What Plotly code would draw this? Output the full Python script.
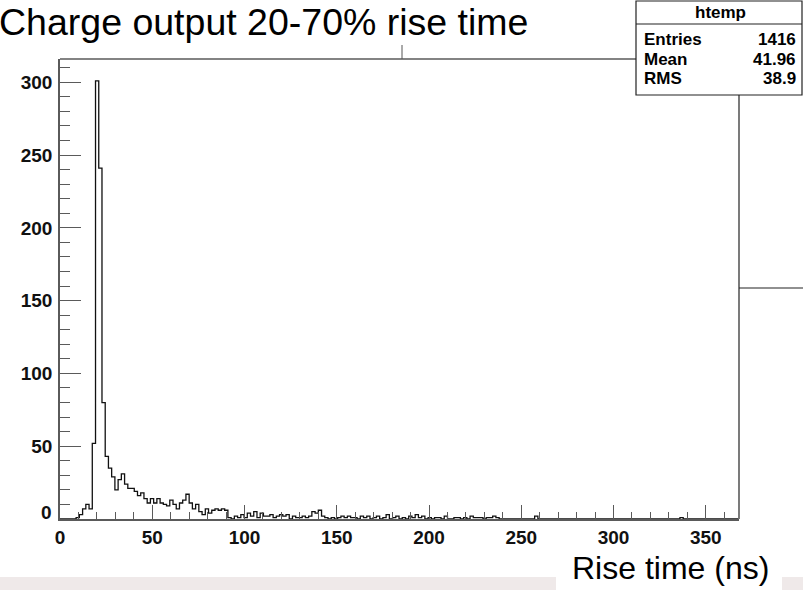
import plotly.graph_objects as go

# ---- data ----
bin_width = 1.75
counts = [
    0, 0, 0, 0, 0,
    1, 3, 7, 10, 7,
    52, 301, 241, 80, 43,
    35, 29, 20, 27, 31,
    24, 21, 21, 19, 16,
    18, 14, 11, 14, 11,
    14, 11, 10, 9, 13,
    10, 7, 11, 13, 17,
    11, 7, 10, 5, 3,
    7, 4, 6, 7, 6,
    7, 6, 1, 0, 2,
    1, 3, 1, 4, 2,
    5, 1, 4, 2, 2,
    3, 1, 2, 3, 2,
    3, 0, 2, 1, 1,
    2, 1, 2, 5, 4,
    6, 2, 1, 0, 1,
    0, 1, 2, 1, 2,
    1, 1, 0, 2, 1,
    2, 0, 1, 2, 0,
    1, 3, 0, 1, 2,
    0, 1, 0, 2, 1,
    3, 1, 2, 0, 1,
    0, 1, 1, 0, 2,
    0, 0, 1, 1, 0,
    1, 0, 2, 1, 1,
    1, 0, 1, 1, 2,
    1, 0, 0, 0, 0,
    0, 0, 0, 0, 0,
    0, 0, 2, 0, 0,
    0, 0, 0, 0, 0,
    0, 0, 0, 0, 0,
    0, 0, 0, 0, 0,
    0, 0, 0, 0, 0,
    0, 0, 0, 0, 0,
    0, 0, 0, 0, 0,
    0, 0, 0, 0, 0,
    0, 0, 0, 0, 0,
    0, 0, 1, 0, 0,
    0, 0, 0, 0, 0,
    0, 0, 0, 0, 0,
    0, 0, 0, 0, 0,
]
x_ticks = [0, 50, 100, 150, 200, 250, 300, 350]
y_ticks = [0, 50, 100, 150, 200, 250, 300]
x_range = [0, 368]
y_range = [0, 316]
title_text = "Charge output 20-70% rise time"
x_title = "Rise time (ns)"
stats_name = "htemp"
stats_rows = [("Entries", "1416"), ("Mean", "41.96"), ("RMS", "38.9")]

# step outline built from bin edges
edges = [i * bin_width for i in range(len(counts) + 1)]
xs = [edges[0]] + edges
ys = [0] + counts + [0]

W, H = 803, 590
L, R, T, B = 60, 64, 59, 71
pw, ph = W - L - R, H - T - B

def px(xp):
    return (xp - L) / pw

def py(yp):
    return (H - B - yp) / ph

fig = go.Figure()
fig.add_trace(go.Scatter(
    x=xs, y=ys, mode="lines", line=dict(shape="hv", color="#111111", width=1.3),
    hoverinfo="skip", showlegend=False))

frame = "#5a5a5a"
FAM = "Liberation Sans, Arial, sans-serif"
tickfont = dict(family=FAM, size=19, color="#111111", weight="bold")
fig.update_layout(
    width=W, height=H,
    margin=dict(l=L, r=R, t=T, b=B),
    paper_bgcolor="white", plot_bgcolor="white",
    showlegend=False,
    xaxis=dict(range=x_range, tickvals=x_ticks, ticktext=[str(v) for v in x_ticks],
               ticks="inside", ticklen=14, tickwidth=1.2, tickcolor=frame,
               minor=dict(dtick=10, tick0=0, ticks="inside", ticklen=7, tickwidth=1.2, tickcolor=frame),
               showgrid=False, zeroline=False, showline=True, linecolor=frame, linewidth=1.5,
               tickfont=tickfont, ticklabelstandoff=0),
    yaxis=dict(range=y_range, tickvals=y_ticks, ticktext=[""] + [str(v) for v in y_ticks[1:]],
               ticks="inside", ticklen=21, tickwidth=1.2, tickcolor=frame,
               minor=dict(dtick=10, tick0=0, ticks="inside", ticklen=10, tickwidth=1.2, tickcolor=frame),
               showgrid=False, zeroline=False, showline=True, linecolor=frame, linewidth=1.5,
               tickfont=tickfont, ticklabelstandoff=2),
)

shapes = []
# frame top and right
shapes.append(dict(type="line", xref="paper", yref="paper", x0=0, x1=1, y0=1, y1=1,
                   line=dict(color=frame, width=1.5)))
shapes.append(dict(type="line", xref="paper", yref="paper", x0=1, x1=1, y0=0, y1=1,
                   line=dict(color="#222222", width=1.2)))
# stray lines from the slide
shapes.append(dict(type="line", xref="paper", yref="paper", x0=1, x1=px(805), y0=py(288), y1=py(288),
                   line=dict(color="#222222", width=1.2)))
shapes.append(dict(type="line", xref="paper", yref="paper", x0=px(402), x1=px(402), y0=py(45), y1=1,
                   line=dict(color="#555555", width=1)))
# bottom pale bands
band = "#efe9e9"
shapes.append(dict(type="rect", xref="paper", yref="paper", x0=px(0), x1=px(556), y0=py(590), y1=py(577),
                   fillcolor=band, line=dict(width=0), layer="below"))
shapes.append(dict(type="rect", xref="paper", yref="paper", x0=px(782), x1=px(805), y0=py(590), y1=py(577),
                   fillcolor=band, line=dict(width=0), layer="below"))
# stats box
bx0, bx1, by0, by1 = 636, 802, 1, 95
shapes.append(dict(type="rect", xref="paper", yref="paper", x0=px(bx0), x1=px(bx1), y0=py(by1), y1=py(by0),
                   fillcolor="white", line=dict(color="#222222", width=1.2), layer="above"))
shapes.append(dict(type="line", xref="paper", yref="paper", x0=px(bx0), x1=px(bx1), y0=py(24), y1=py(24),
                   line=dict(color="#222222", width=1.2), layer="above"))
fig.update_layout(shapes=shapes)

ann = []
ann.append(dict(text=title_text, xref="paper", yref="paper", x=px(-3), y=py(22), xanchor="left",
                yanchor="middle", showarrow=False,
                font=dict(family=FAM, size=37.5, color="black")))
ann.append(dict(text=x_title, xref="paper", yref="paper", x=px(570), y=py(568), xanchor="left",
                yanchor="middle", showarrow=False,
                font=dict(family=FAM, size=32, color="black")))
ann.append(dict(text="0", xref="paper", yref="paper", x=px(54), y=py(512), xanchor="right",
                yanchor="middle", showarrow=False, font=tickfont))
sfont = dict(family=FAM, size=17, color="black", weight="bold")
ann.append(dict(text=stats_name, xref="paper", yref="paper", x=px(720), y=py(12),
                xanchor="center", yanchor="middle", showarrow=False, font=sfont))
row_y = [40, 59, 78]
for (k, v), yy in zip(stats_rows, row_y):
    ann.append(dict(text=k, xref="paper", yref="paper", x=px(642), y=py(yy),
                    xanchor="left", yanchor="middle", showarrow=False, font=sfont))
    ann.append(dict(text=v, xref="paper", yref="paper", x=px(798), y=py(yy),
                    xanchor="right", yanchor="middle", showarrow=False, font=sfont))
fig.update_layout(annotations=ann)

fig.write_html("out.html")
